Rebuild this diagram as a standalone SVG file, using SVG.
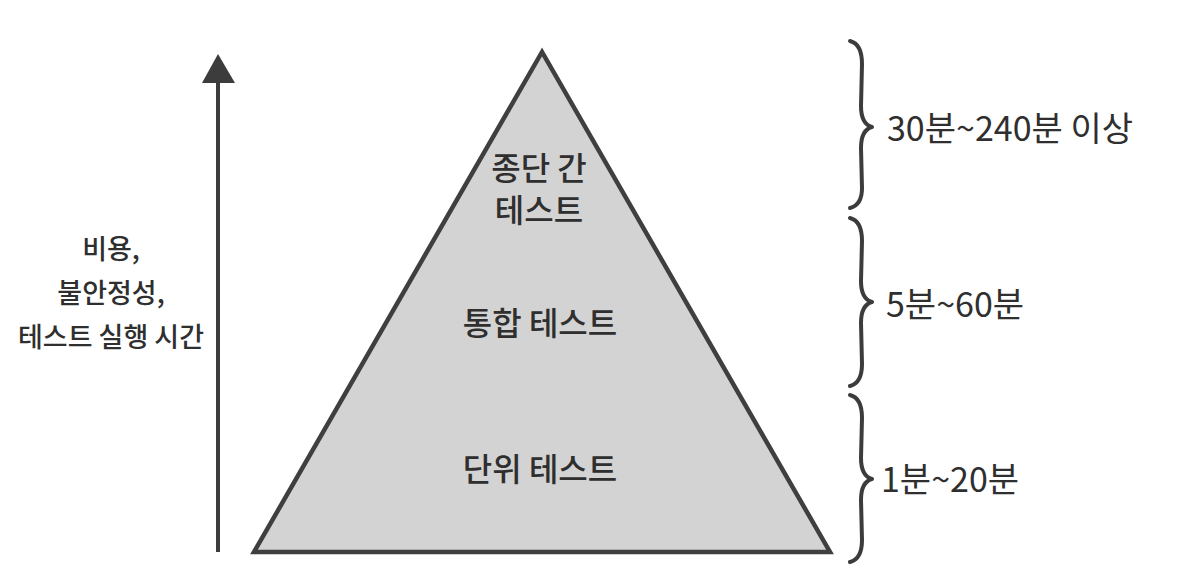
<svg xmlns="http://www.w3.org/2000/svg" width="1188" height="586" viewBox="0 0 1188 586">
<style>
.lbl{font-family:"Noto Sans CJK KR","Noto Sans",sans-serif;fill:#2f2f2f;text-anchor:middle}
.in{font-size:32px;font-weight:500}
.side{font-size:27px;font-weight:500}
.time{font-size:34px;text-anchor:start}
.brace{fill:none;stroke:#3c3c3c;stroke-width:4;stroke-linecap:round;stroke-linejoin:round}
</style>
<rect width="1188" height="586" fill="#ffffff"/>
<g id="pyramid">
<polygon points="542,52 254,552 830,552" fill="#d3d3d3" stroke="#3f3f3f" stroke-width="4.5" stroke-linejoin="miter"/>
</g>
<g id="e2e">
<text class="lbl in" x="539" y="180">종단 간</text>
<text class="lbl in" x="539" y="222">테스트</text>
</g>
<g id="integration">
<text class="lbl in" x="540" y="335">통합 테스트</text>
</g>
<g id="unit">
<text class="lbl in" x="540" y="481">단위 테스트</text>
</g>
<g id="axis-label">
<text class="lbl side" x="111" y="259">비용,</text>
<text class="lbl side" x="111" y="303">불안정성,</text>
<text class="lbl side" x="111" y="347">테스트 실행 시간</text>
</g>
<g id="connectors">
<line x1="218" y1="552" x2="218" y2="80" stroke="#3c3c3c" stroke-width="4"/>
<polygon points="218,54 202,83 235,83" fill="#3c3c3c"/>
<path class="brace" d="M850 41 Q862 44 862 64 L861 106 Q861 124 872 127 Q861 130 861 148 L862 188 Q862 205 850 208"/>
<path class="brace" d="M850 218 Q862 221 862 241 L861 281 Q861 299 872 302 Q861 305 861 323 L862 364 Q862 383 850 386"/>
<path class="brace" d="M850 395 Q862 398 862 418 L861 458 Q861 476 872 479 Q861 482 861 500 L862 540 Q862 559 850 562"/>
</g>
<g id="times">
<text class="lbl time" x="887" y="141">30분~240분 이상</text>
<text class="lbl time" x="886" y="317">5분~60분</text>
<text class="lbl time" x="881" y="492">1분~20분</text>
</g>
</svg>
